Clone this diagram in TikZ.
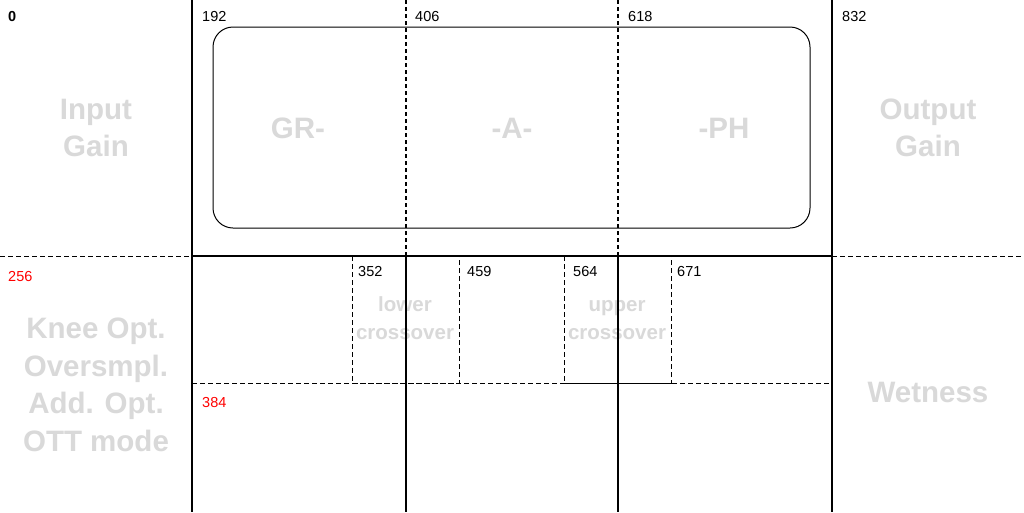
\documentclass[tikz,border=0pt]{standalone}
\usepackage{fontspec}
\setmainfont{Liberation Sans}
\begin{document}
\begin{tikzpicture}[x=1pt,y=-1pt,
  big/.style={text=gray!30,font=\fontsize{29.5}{37.5}\selectfont\bfseries,align=center,inner sep=0},
  mid/.style={text=gray!30,font=\fontsize{20.5}{28}\selectfont\bfseries,align=center,inner sep=0},
  num/.style={font=\fontsize{14.5}{15}\selectfont,anchor=west,inner sep=0},
  rednum/.style={num,text=red},
  solid line/.style={line width=2pt},
  thin dash/.style={line width=0.8pt,dash pattern=on 5pt off 3pt},
  thick dash/.style={line width=2pt,dash pattern=on 4pt off 3pt},
  box/.style={draw,line width=1pt,rounded corners=20pt}]
\useasboundingbox (0,0) rectangle (1024,512);
\fill[white] (0,0) rectangle (1024,512);
% gray labels
\node[big] (inp) at (96,128) {Input\\Gain};
\node[big] (gr) at (298,128) {GR-};
\node[big] (a) at (512,128) {-A-};
\node[big] (ph) at (724,128) {-PH};
\node[big] (outg) at (928,128) {Output\\Gain};
\node[big] (knee) at (96,385) {Knee Opt.\\Oversmpl.\\Add. Opt.\\OTT mode};
\node[big] (wet) at (928,392) {Wetness};
\node[mid] (lc) at (405,318) {lower\\crossover};
\node[mid] (uc) at (617,320) {upper\\crossover};
% rounded box
\draw[box] (213,27) rectangle (810,228);
% coordinates
\coordinate (t192) at (192,0); \coordinate (b192) at (192,512);
\coordinate (t832) at (832,0); \coordinate (b832) at (832,512);
\coordinate (t406) at (406,0); \coordinate (m406) at (406,256); \coordinate (b406) at (406,512);
\coordinate (t618) at (618,0); \coordinate (m618) at (618,256); \coordinate (b618) at (618,512);
\coordinate (l256) at (0,256); \coordinate (r256) at (1024,256);
\coordinate (a256) at (192,256); \coordinate (b256) at (832,256);
\coordinate (a384) at (192,383); \coordinate (b384) at (832,383);
% lines
\draw[thin dash] (l256) -- (a256);
\draw[thin dash] (b256) -- (r256);
\draw[thin dash] (a384) -- (b384);
\draw[thin dash] (352,256) rectangle (459,383);
\draw[thin dash] (564,256) rectangle (671,383);
\draw[thick dash] (t406) -- (m406);
\draw[thick dash] (t618) -- (m618);
\draw[solid line] (m406) -- (b406);
\draw[solid line] (m618) -- (b618);
\draw[solid line] (a256) -- (b256);
\draw[solid line] (t192) -- (b192);
\draw[solid line] (t832) -- (b832);
% numbers
\node[num,font=\fontsize{14.5}{15}\selectfont\bfseries] (n0) at (8,17) {0};
\node[num] (n192) at (202,17) {192};
\node[num] (n406) at (415,17) {406};
\node[num] (n618) at (628,17) {618};
\node[num] (n832) at (842,17) {832};
\node[rednum] (n256) at (8,277) {256};
\node[rednum] (n384) at (202,402) {384};
\node[num] (n352) at (358,272) {352};
\node[num] (n459) at (467,272) {459};
\node[num] (n564) at (573,272) {564};
\node[num] (n671) at (677,272) {671};
\end{tikzpicture}
\end{document}
